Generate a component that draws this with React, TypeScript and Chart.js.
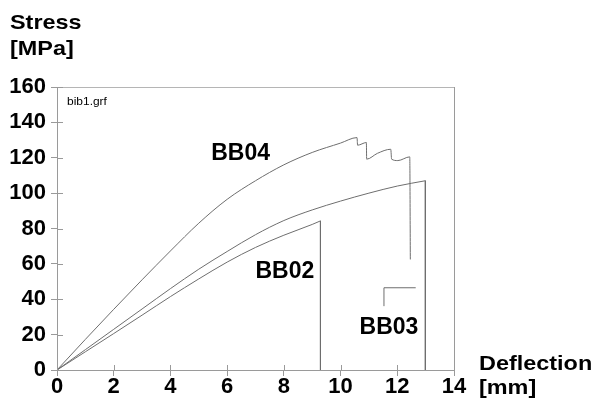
import React, { useEffect, useRef } from "react";
import { Chart, registerables } from "chart.js";

Chart.register(...registerables);

// Deflection [mm] and stress [MPa] readings for each specimen
const bb04Deflection = [0, 1, 2, 3, 4, 5, 6, 7, 8, 9, 10, 10.58, 10.6, 10.91, 10.92, 11.3, 11.77, 11.8, 12.02, 12.44, 12.46];
const bb04Stress = [0, 17.3, 34.3, 51, 67.3, 83, 96.5, 107, 116, 123, 128.3, 131.4, 127.1, 128.6, 119.2, 122.5, 124.8, 119.2, 118.4, 120.5, 62.5];

const bb04TailDeflection = [11.53, 11.53, 12.65];
const bb04TailStress = [36.1, 46.5, 46.5];

const bb03Deflection = [0, 1, 2, 3, 4, 5, 6, 7, 8, 9, 10, 11, 12, 12.99, 12.99];
const bb03Stress = [0, 11.5, 23, 34.5, 46, 57, 67, 76.5, 84.5, 90.5, 95.5, 100, 104, 107, 0];

const bb02Deflection = [0, 1, 2, 3, 4, 5, 6, 7, 8, 9, 9.29, 9.29];
const bb02Stress = [0, 10.3, 20.6, 31, 41.5, 51.5, 61, 69.3, 76.2, 82.3, 84.3, 0];

// Specimen names, anchored in data units (left edge, baseline)
const curveLabels = ["BB04", "BB02", "BB03"];
const curveLabelX = [5.44, 7.0, 10.67];
const curveLabelY = [119, 52.1, 20.2];

const xMax = 14;
const yMax = 160;
const xStep = 2;
const yStep = 20;

type Pt = { x: number; y: number };
const toPoints = (xs: number[], ys: number[]): Pt[] => xs.map((x, i) => ({ x, y: ys[i] }));

// a loading curve: smooth rising part, then the straight break-off drop
const splitAtBreak = (pts: Pt[]) => ({ rise: pts.slice(0, -1), drop: pts.slice(-2) });

const LINE = "#6e6e6e";
const AXIS = "#9a9a9a";

function stretchedText(ctx: CanvasRenderingContext2D, text: string, x: number, y: number, font: string, sx: number) {
  ctx.save();
  ctx.font = font;
  ctx.fillStyle = "#000";
  ctx.textBaseline = "alphabetic";
  ctx.textAlign = "left";
  ctx.translate(x, y);
  ctx.scale(sx, 1);
  ctx.fillText(text, 0, 0);
  ctx.restore();
}

const decorations = {
  id: "decorations",
  afterDraw(chart: any) {
    const { ctx, chartArea, scales } = chart;
    const xs = scales.x;
    const ys = scales.y;
    ctx.save();
    // frame: top and right edges
    ctx.strokeStyle = "#b5b5b5";
    ctx.lineWidth = 1;
    ctx.beginPath();
    ctx.moveTo(chartArea.left, Math.round(chartArea.top) + 0.5);
    ctx.lineTo(chartArea.right, Math.round(chartArea.top) + 0.5);
    ctx.stroke();
    ctx.strokeStyle = AXIS;
    ctx.beginPath();
    ctx.moveTo(Math.round(chartArea.right) + 0.5, chartArea.top);
    ctx.lineTo(Math.round(chartArea.right) + 0.5, chartArea.bottom);
    ctx.stroke();
    // inner halves of the crossing tick marks
    ctx.strokeStyle = AXIS;
    ctx.beginPath();
    for (let v = 0; v <= yMax; v += yStep) {
      const py = Math.round(ys.getPixelForValue(v)) + 0.5;
      ctx.moveTo(chartArea.left, py);
      ctx.lineTo(chartArea.left + 6, py);
    }
    for (let v = 0; v <= xMax; v += xStep) {
      const px = Math.round(xs.getPixelForValue(v)) + 0.5;
      ctx.moveTo(px, chartArea.bottom);
      ctx.lineTo(px, chartArea.bottom - 5);
    }
    ctx.stroke();
    ctx.restore();

    // axis titles
    const titleFont = "bold 21px 'Liberation Sans', Arial, sans-serif";
    stretchedText(ctx, "Stress", 10, 28.5, titleFont, 1.115);
    stretchedText(ctx, "[MPa]", 10, 54.5, titleFont, 1.115);
    stretchedText(ctx, "Deflection", 479, 370, titleFont, 1.115);
    stretchedText(ctx, "[mm]", 479, 393.5, titleFont, 1.115);

    // file tag
    stretchedText(ctx, "bib1.grf", chartArea.left + 10, chartArea.top + 17.5, "10.5px 'Liberation Sans', Arial, sans-serif", 1.14);

    // specimen names
    curveLabels.forEach((t, i) => {
      stretchedText(
        ctx,
        t,
        xs.getPixelForValue(curveLabelX[i]),
        ys.getPixelForValue(curveLabelY[i]),
        "bold 23px 'Liberation Sans', Arial, sans-serif",
        1
      );
    });
  },
};

export default function App() {
  const canvasRef = useRef<HTMLCanvasElement | null>(null);

  useEffect(() => {
    const canvas = canvasRef.current;
    if (!canvas) return;
    const smooth = {
      showLine: true,
      borderColor: LINE,
      borderWidth: 1,
      pointRadius: 0,
      pointHoverRadius: 0,
      cubicInterpolationMode: "monotone" as const,
      fill: false,
    };
    const straight = { ...smooth, cubicInterpolationMode: "default" as const, tension: 0 };
    const bb03 = splitAtBreak(toPoints(bb03Deflection, bb03Stress));
    const bb02 = splitAtBreak(toPoints(bb02Deflection, bb02Stress));
    const chart = new Chart(canvas, {
      type: "scatter",
      data: {
        datasets: [
          { label: "BB04", data: toPoints(bb04Deflection, bb04Stress), ...smooth },
          { label: "BB04 rest", data: toPoints(bb04TailDeflection, bb04TailStress), ...straight },
          { label: "BB03", data: bb03.rise, ...smooth },
          { label: "BB03 break", data: bb03.drop, ...straight },
          { label: "BB02", data: bb02.rise, ...smooth },
          { label: "BB02 break", data: bb02.drop, ...straight },
        ],
      },
      options: {
        responsive: false,
        animation: false,
        devicePixelRatio: 1,
        layout: { padding: { left: 0, top: 87, right: 140, bottom: 0 } },
        plugins: { legend: { display: false }, tooltip: { enabled: false } },
        scales: {
          x: {
            type: "linear",
            min: 0,
            max: xMax,
            ticks: {
              stepSize: xStep,
              color: "#000",
              padding: 0,
              maxRotation: 0,
              font: { family: "'Liberation Sans', Arial, sans-serif", size: 22, weight: "bold", lineHeight: 1 },
            },
            grid: { drawOnChartArea: false, drawTicks: true, tickLength: 6, color: AXIS },
            border: { display: true, color: AXIS },
            afterFit: (s: any) => {
              s.height = 37;
            },
          },
          y: {
            type: "linear",
            min: 0,
            max: yMax,
            ticks: {
              stepSize: yStep,
              color: "#000",
              padding: 5,
              font: { family: "'Liberation Sans', Arial, sans-serif", size: 22, weight: "bold", lineHeight: 1 },
            },
            grid: { drawOnChartArea: false, drawTicks: true, tickLength: 6, color: AXIS },
            border: { display: true, color: AXIS },
            afterFit: (s: any) => {
              s.width = 57;
            },
          },
        },
      },
      plugins: [decorations],
    });
    return () => chart.destroy();
  }, []);

  return (
    <div style={{ position: "absolute", left: 0, top: 0, width: 594, height: 407, background: "#fff" }}>
      <canvas ref={canvasRef} width={594} height={407} />
    </div>
  );
}
